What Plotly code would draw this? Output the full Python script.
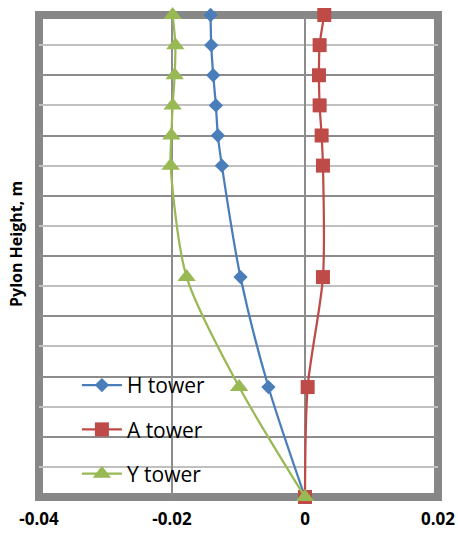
import plotly.graph_objects as go

heights = [160, 150, 140, 130, 120, 110, 73, 36.5, 0]
h_tower = [-0.0142, -0.0141, -0.0138, -0.0134, -0.0131, -0.0125, -0.0097, -0.0055, 0.0]
a_tower = [0.0029, 0.0022, 0.0021, 0.0022, 0.0025, 0.0027, 0.0027, 0.0004, 0.0]
y_tower = [-0.0199, -0.0195, -0.0196, -0.0199, -0.0201, -0.0202, -0.0178, -0.0099, 0.0]
series_names = ["H tower", "A tower", "Y tower"]
x_ticks = [-0.04, -0.02, 0, 0.02]
x_tick_labels = ["-0.04", "-0.02", "0", "0.02"]

colors = ["#4A7EBB", "#BE4B48", "#98B954"]
symbols = ["diamond", "square", "triangle-up"]
sizes = [11, 14, 16]

fig = go.Figure()
for i, (name, xs) in enumerate(zip(series_names, [h_tower, a_tower, y_tower])):
    fig.add_trace(go.Scatter(
        x=xs, y=heights, name=name, mode="lines+markers",
        line=dict(color=colors[i], width=2.25, shape="spline", smoothing=0.8),
        marker=dict(symbol=symbols[i], size=sizes[i], color=colors[i],
                    line=dict(width=0)),
        cliponaxis=False, legendgroup=name,
    ))

fig.add_shape(type="rect", xref="paper", yref="paper", x0=0, x1=1, y0=0, y1=1,
              line=dict(color="#878787", width=8), layer="below")

fig.update_layout(
    width=458, height=540,
    margin=dict(l=39, r=20, t=15, b=43, autoexpand=False),
    paper_bgcolor="white", plot_bgcolor="white",
    font=dict(family="Open Sans", color="black"),
    showlegend=True,
    legend=dict(x=0.095, y=0.274, xanchor="left", yanchor="top",
                bgcolor="rgba(0,0,0,0)", font=dict(size=21, family="Open Sans"),
                tracegroupgap=14, itemwidth=40),
    xaxis=dict(range=[-0.04, 0.02], tickvals=x_ticks, ticktext=x_tick_labels,
               showgrid=True, gridcolor="#8C8C8C", gridwidth=1.5,
               zeroline=False, showline=False, ticks="", automargin=False,
               tickfont=dict(size=17, family="Open Sans", color="black", weight="bold"),
               ticklabelstandoff=10, layer="below traces"),
    yaxis=dict(range=[0, 160], dtick=20, showgrid=True, gridcolor="#8C8C8C", gridwidth=1.5,
               minor=dict(dtick=10, showgrid=True, gridcolor="#C0C0C0", gridwidth=1.5),
               showticklabels=False, zeroline=False, showline=False, ticks="",
               automargin=False, layer="below traces"),
    annotations=[dict(text="<b>Pylon Height, m</b>", xref="paper", yref="paper",
                      x=(16 - 39) / 399, y=(497 - 244) / 482, xanchor="center", yanchor="middle",
                      textangle=-90, showarrow=False,
                      font=dict(size=16, family="Open Sans", color="black"))],
)

fig.write_html("out.html", config={"displayModeBar": False},
               post_script="document.body.style.margin='0';")
